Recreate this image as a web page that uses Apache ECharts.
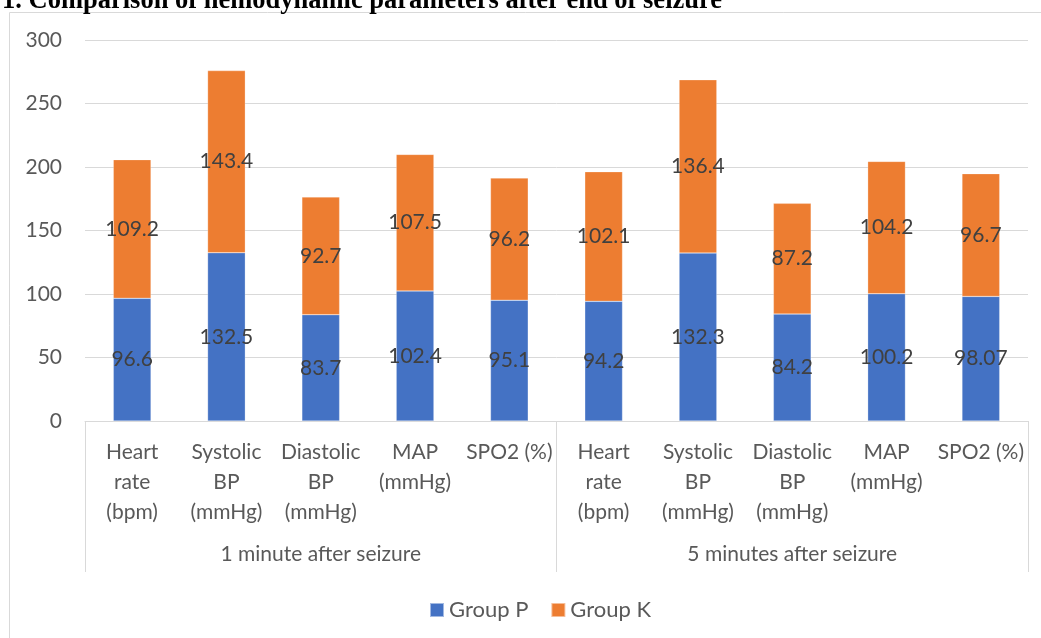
<!DOCTYPE html>
<html>
<head>
<meta charset="utf-8">
<style>
html,body{margin:0;padding:0;background:#fff;}
#c{width:1041px;height:638px;}
</style>
<script src="https://cdn.jsdelivr.net/npm/echarts@6/dist/echarts.min.js"></script>
</head>
<body>
<div id="c"></div>
<script>
const titleText = "1. Comparison of hemodynamic parameters after end of seizure";
const categories = ["Heart\nrate\n(bpm)", "Systolic\nBP\n(mmHg)", "Diastolic\nBP\n(mmHg)", "MAP\n(mmHg)", "SPO2 (%)",
                    "Heart\nrate\n(bpm)", "Systolic\nBP\n(mmHg)", "Diastolic\nBP\n(mmHg)", "MAP\n(mmHg)", "SPO2 (%)"];
const groups = ["1 minute after seizure", "5 minutes after seizure"];
const groupP = [96.6, 132.5, 83.7, 102.4, 95.1, 94.2, 132.3, 84.2, 100.2, 98.07];
const groupK = [109.2, 143.4, 92.7, 107.5, 96.2, 102.1, 136.4, 87.2, 104.2, 96.7];
const seriesNames = ["Group P", "Group K"];
const yTicks = {min: 0, max: 300, interval: 50};

const FONT = "Lato";
const chart = echarts.init(document.getElementById('c'));
const labelCfg = {show: true, position: 'inside', color: '#404040', fontFamily: FONT, fontSize: 21};
chart.setOption({
  animation: false,
  color: ['#4472C4', '#ED7D31'],
  graphic: [
    {type: 'rect', shape: {x: 9.5, y: 12.5, width: 1100, height: 700}, style: {fill: 'none', stroke: '#d9d9d9', lineWidth: 1}, silent: true},
    {type: 'text', left: 2, top: -12, style: {text: titleText, font: 'bold 26.5px "Liberation Serif", "Times New Roman", serif', fill: '#000'}}
  ],
  grid: {left: 85, right: 13, top: 40, bottom: 217, containLabel: false},
  legend: {
    data: seriesNames, bottom: 17, left: 429, padding: 0, itemWidth: 14, itemHeight: 14, itemGap: 22,
    icon: 'rect',
    textStyle: {fontFamily: FONT, fontSize: 22, color: '#595959'}
  },
  xAxis: [
    {
      type: 'category', data: categories, gridIndex: 0,
      axisLine: {show: true, lineStyle: {color: '#d9d9d9', width: 1}},
      axisTick: {show: false},
      axisLabel: {interval: 0, margin: 16, fontFamily: FONT, fontSize: 21, lineHeight: 30, color: '#595959'}
    },
    {
      type: 'category', data: groups, gridIndex: 0, position: 'bottom',
      axisLine: {show: false},
      axisTick: {show: true, length: 151, interval: 0, lineStyle: {color: '#d9d9d9', width: 1}},
      axisLabel: {interval: 0, margin: 123, fontFamily: FONT, fontSize: 21, color: '#595959'}
    }
  ],
  yAxis: {
    type: 'value', min: yTicks.min, max: yTicks.max, interval: yTicks.interval,
    axisLine: {show: false}, axisTick: {show: false},
    splitLine: {lineStyle: {color: '#d9d9d9', width: 1}},
    axisLabel: {margin: 23, fontFamily: FONT, fontSize: 21, color: '#595959'}
  },
  series: [
    {name: seriesNames[0], type: 'bar', stack: 'a', xAxisIndex: 0, data: groupP, barWidth: '40%', label: labelCfg,
     itemStyle: {borderColor: 'rgba(255,255,255,0.5)', borderWidth: 0.5}},
    {name: seriesNames[1], type: 'bar', stack: 'a', xAxisIndex: 0, data: groupK, barWidth: '40%', label: labelCfg,
     itemStyle: {borderColor: 'rgba(255,255,255,0.5)', borderWidth: 0.5}}
  ]
});
</script>
</body>
</html>
